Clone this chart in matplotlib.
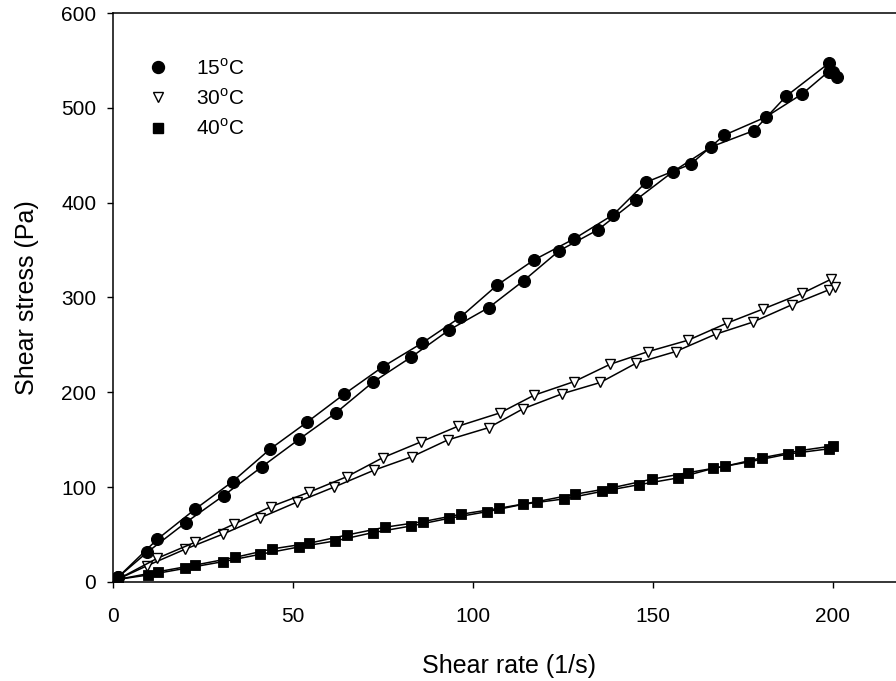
import matplotlib
matplotlib.use("Agg")
import matplotlib.pyplot as plt
from matplotlib.lines import Line2D

plt.rcParams['font.family'] = ['Liberation Sans', 'DejaVu Sans']
plt.rcParams['mathtext.fontset'] = 'custom'
plt.rcParams['mathtext.rm'] = 'Liberation Sans'

# 15 C - two branches of the loop
x15_a = [1.4, 9.5, 20.2, 30.7, 41.4, 51.8, 61.9, 72.2, 82.9, 93.4, 104.4, 114.1,
         123.9, 134.8, 145.3, 155.6, 166.2, 178.1, 187.0, 199.0, 200.1]
y15_a = [5, 31.3, 62.6, 91, 121.6, 150.8, 178.3, 210.7, 237.3, 265.8, 289.4, 317.8,
         349.2, 371.6, 403, 432.8, 458.9, 476.1, 512.3, 547.5, 538.3]
x15_b = [1.4, 12.3, 22.8, 33.2, 43.7, 53.9, 64.3, 74.9, 85.8, 96.5, 106.8, 117.0,
         128.2, 139.0, 148.1, 160.5, 169.8, 181.3, 191.5, 198.8, 201.0]
y15_b = [5, 45, 76.7, 105.8, 140.3, 168.5, 198.3, 226.8, 251.8, 279.2, 313.3, 339.7,
         362.1, 387.4, 421.6, 440.6, 471.2, 490.2, 514.8, 538.3, 533.0]

# 30 C
x30_a = [1.4, 9.5, 20.0, 30.6, 40.8, 51.2, 61.5, 72.6, 83.1, 93.0, 104.4, 114.0,
         124.8, 135.4, 145.3, 156.3, 167.4, 177.7, 188.5, 198.8, 200.6]
y30_a = [3, 17.2, 34.5, 50.6, 67.5, 84.4, 100.2, 118, 132.2, 149.8, 162.8, 182.8,
         198.5, 210.4, 230.7, 243, 261.3, 274, 292.2, 308, 311.5]
x30_b = [1.4, 12.3, 22.8, 33.7, 43.9, 54.4, 65.0, 74.9, 85.7, 95.8, 107.5, 117.0,
         128.1, 138.1, 148.7, 159.8, 170.5, 180.5, 191.5, 199.5]
y30_b = [3, 25, 41.9, 61.2, 79.5, 94.6, 111.1, 131, 148, 164.2, 178.3, 197,
         211.3, 229.6, 243, 255, 272.9, 287.7, 304.5, 319.3]

# 40 C
x40_a = [1.5, 9.8, 20.1, 30.5, 40.9, 51.6, 61.6, 72.1, 82.9, 93.4, 104.0, 114.0,
         125.3, 135.8, 146.1, 156.9, 166.8, 176.6, 187.6, 199.0]
y40_a = [2.8, 7.4, 14.4, 21.4, 29.2, 36.9, 43.2, 52, 59.1, 67.2, 74.2, 82,
         87.6, 95.5, 102.6, 109.7, 119.9, 126.6, 135, 140.5]
x40_b = [1.5, 12.6, 22.9, 34.0, 44.1, 54.4, 65.1, 75.5, 86.0, 96.6, 107.2, 117.7,
         128.3, 138.6, 149.6, 159.8, 170.0, 180.4, 190.8, 200.0]
y40_b = [2.8, 10.9, 17.9, 26, 34.8, 40.8, 49.6, 57.7, 63.6, 71.4, 77.7, 84.7,
         92.5, 99.3, 108.3, 115.3, 122, 131.1, 138.5, 143.5]

labels = ['15$^{\\mathrm{o}}$C', '30$^{\\mathrm{o}}$C', '40$^{\\mathrm{o}}$C']

fig = plt.figure(figsize=(8.96, 6.81), dpi=100)
ax = fig.add_axes([0.1261, 0.1454, 0.8839, 0.8355])

sty15 = dict(color='black', lw=1.1, marker='o', ms=8.6, mfc='black', mec='black', mew=0.8)
sty30 = dict(color='black', lw=1.1, marker='v', ms=7.4, mfc='white', mec='black', mew=1.0)
sty40 = dict(color='black', lw=1.1, marker='s', ms=7.6, mfc='black', mec='black', mew=0.6)

ax.plot(x40_a, y40_a, **sty40)
ax.plot(x40_b, y40_b, **sty40)
ax.plot(x30_a, y30_a, **sty30)
ax.plot(x30_b, y30_b, **sty30)
ax.plot(x15_a, y15_a, **sty15)
ax.plot(x15_b, y15_b, **sty15)

ax.set_xlim(0, 220)
ax.set_ylim(0, 600)
ax.set_xticks([0, 50, 100, 150, 200])
ax.set_yticks([0, 100, 200, 300, 400, 500, 600])
ax.tick_params(direction='out', length=4, width=1, labelsize=15, pad=8)
ax.tick_params(axis='x', pad=14)
for s in ax.spines.values():
    s.set_linewidth(1.1)

ax.set_xlabel('Shear rate (1/s)', fontsize=18, labelpad=20)
ax.set_ylabel('Shear stress (Pa)', fontsize=18, labelpad=16)

handles = [Line2D([], [], ls='none', marker='o', ms=8.6, mfc='black', mec='black'),
           Line2D([], [], ls='none', marker='v', ms=7.4, mfc='white', mec='black', mew=1.0),
           Line2D([], [], ls='none', marker='s', ms=7.6, mfc='black', mec='black')]
ax.legend(handles, labels, loc='upper left', bbox_to_anchor=(0.044, 0.921),
          frameon=False, fontsize=15, handlelength=1.0, handletextpad=1.3,
          labelspacing=0.45, borderpad=0, borderaxespad=0)

fig.savefig('out.png', dpi=100)
